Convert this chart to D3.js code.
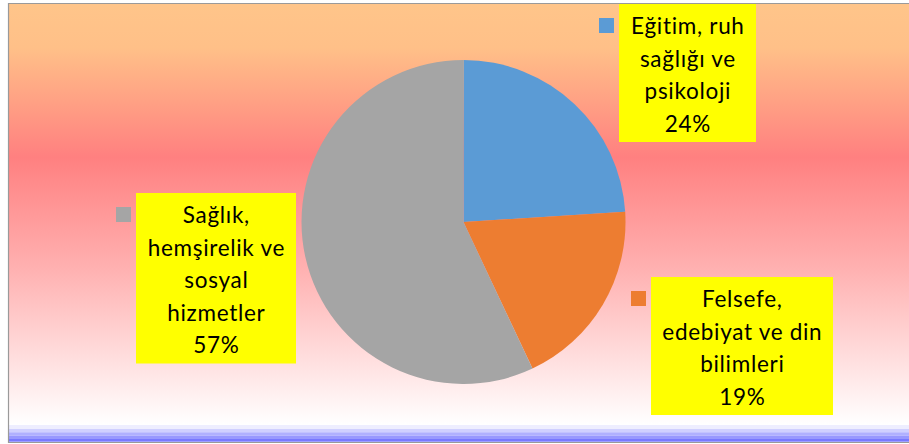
<!DOCTYPE html>
<html><head><meta charset="utf-8">
<script src="https://cdn.jsdelivr.net/npm/d3@7"></script>
<style>html,body{margin:0;padding:0;background:#fff;}svg{display:block;}</style>
</head><body>
<svg id="c" width="909" height="444"></svg>
<script>
const categories = ["Eğitim, ruh sağlığı ve psikoloji", "Felsefe, edebiyat ve din bilimleri", "Sağlık, hemşirelik ve sosyal hizmetler"];
const values = [24, 19, 57];
const colors = ["#5B9BD5", "#ED7D31", "#A5A5A5"];
const labelLines = [
  ["Eğitim, ruh", "sağlığı ve", "psikoloji"],
  ["Felsefe,", "edebiyat ve din", "bilimleri"],
  ["Sağlık,", "hemşirelik ve", "sosyal", "hizmetler"]
];
// label box layout [x, y, width]
const boxes = [[619, 4, 137], [651, 277, 182], [136, 193, 160]];

const svg = d3.select("#c");
const defs = svg.append("defs");
const g = defs.append("linearGradient").attr("id","bg").attr("x1",0).attr("y1",0).attr("x2",0).attr("y2",1);
[[0,"#FFC58A"],[0.1,"#FFC088"],[0.35,"#FF8080"],[0.6,"#FFB0B0"],[0.8,"#FFDCDC"],[0.96,"#FFFFFF"],[1,"#FFFFFF"]]
  .forEach(s => g.append("stop").attr("offset", s[0]).attr("stop-color", s[1]));

svg.append("rect").attr("x",9).attr("y",4).attr("width",900).attr("height",438).attr("fill","url(#bg)");
const bands = [[425,4,"#EEEEFF"],[429,3.3,"#D0D0FF"],[432.3,3.4,"#B0B0FF"],[435.7,3.3,"#9898FF"],[439,2.7,"#7878FF"]];
bands.forEach(b => svg.append("rect").attr("x",9).attr("y",b[0]).attr("width",900).attr("height",b[1]).attr("fill",b[2]));
// border
svg.append("path").attr("d","M909,3.5 H8.5 V442.5 H909").attr("fill","none").attr("stroke","#9a9a9a").attr("stroke-width",1.2);

const cx = 463.5, cy = 222, r = 162;
const pie = d3.pie().sort(null).value(d => d);
const arc = d3.arc().innerRadius(0).outerRadius(r);
svg.append("g").attr("transform",`translate(${cx},${cy})`)
  .selectAll("path").data(pie(values)).join("path")
  .attr("d", arc).attr("fill", (d,i) => colors[i]);

const lh = 32.5;
const total = d3.sum(values);
boxes.forEach((b, i) => {
  const lines = labelLines[i].concat([d3.format(".0%")(values[i]/total)]);
  const h = lines.length * lh + 8;
  const grp = svg.append("g");
  grp.append("rect").attr("x", b[0]).attr("y", b[1]).attr("width", b[2]).attr("height", h).attr("fill", "#FFFF00");
  grp.append("rect").attr("x", b[0]-20).attr("y", b[1]+14).attr("width", 15).attr("height", 15).attr("fill", colors[i]);
  const t = grp.append("text").attr("text-anchor","middle")
    .attr("font-family","Lato, 'Open Sans', sans-serif").attr("font-size", 22.5)
    .attr("letter-spacing", 0.7).attr("fill","#000");
  lines.forEach((l, j) => t.append("tspan").attr("x", b[0] + b[2]/2 + 0.35).attr("y", b[1] + 30 + j*lh).text(l));
});
</script>
</body></html>
